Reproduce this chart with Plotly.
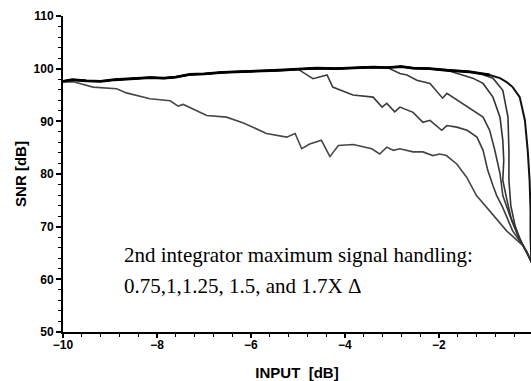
import plotly.graph_objects as go

# Shared high-SNR plateau of the wider-range curves: input level [dB], SNR [dB]
plateau_in = [-10.0, -9.8, -9.5, -9.2, -8.9, -8.5, -8.15, -7.85, -7.6, -7.3, -7.0, -6.6,
              -6.2, -5.8, -5.4, -5.0, -4.6, -4.2, -3.8, -3.4, -3.1, -2.8, -2.55, -2.2,
              -1.83, -1.6, -1.34, -1.13, -0.92]
plateau_snr = [97.6, 97.9, 97.7, 97.6, 97.9, 98.1, 98.3, 98.2, 98.4, 98.9, 99.0, 99.3,
               99.4, 99.5, 99.7, 99.9, 100.1, 100.0, 100.2, 100.3, 100.2, 100.4, 100.1, 100.0,
               99.7, 99.6, 99.4, 99.1, 98.8]

# Common overload tail where the curves meet near full scale
tail_in = [-0.13, -0.06, 0.0]
tail_snr = [65.2, 63.8, 62.8]

# 0.75X: leaves the plateau right away
a_in = [-10.0, -9.78, -9.36, -8.86, -8.65, -8.15, -7.72, -7.55, -7.44, -6.94, -6.52, -6.16,
        -5.67, -5.24, -5.06, -4.92, -4.75, -4.50, -4.32, -4.14, -3.82, -3.43, -3.26, -3.11,
        -2.97, -2.83, -2.55, -2.34, -2.13, -1.98, -1.84, -1.62, -1.41, -1.20, -0.92, -0.56, -0.21]
a_snr = [97.5, 97.5, 96.5, 96.2, 95.4, 94.3, 93.9, 92.9, 93.2, 91.1, 90.8, 89.7,
         87.7, 87.0, 87.7, 84.8, 85.7, 86.4, 83.3, 85.4, 85.6, 84.8, 83.8, 85.1,
         84.5, 84.8, 84.2, 84.2, 83.5, 83.8, 83.5, 81.9, 79.4, 75.9, 73.0, 69.2, 66.4]

# Remaining curves: the input where each leaves the plateau, then its own points
b_from = -5.0
b_in = [-4.68, -4.38, -4.26, -3.83, -3.40, -3.21, -3.11, -2.94, -2.83, -2.55, -2.34, -2.19,
        -1.94, -1.83, -1.62, -1.40, -1.19, -1.06, -0.96, -0.85, -0.77, -0.64, -0.43, -0.21]
b_snr = [98.1, 98.8, 96.5, 95.0, 94.6, 92.7, 93.4, 91.8, 92.7, 91.7, 89.8, 90.2,
         88.3, 89.2, 88.9, 88.3, 87.0, 84.5, 80.7, 77.8, 75.9, 73.6, 69.2, 66.4]

c_from = -3.1
c_in = [-2.83, -2.68, -2.47, -2.19, -2.02, -1.92, -1.83, -1.55, -1.28, -1.06, -0.92, -0.81,
        -0.70, -0.64, -0.49, -0.34, -0.21]
c_snr = [99.1, 98.8, 97.8, 97.2, 95.3, 94.4, 95.3, 93.6, 92.1, 90.8, 88.3, 84.5,
         80.1, 75.9, 72.1, 68.9, 66.4]

d_from = -1.83
d_in = [-1.62, -1.28, -1.06, -0.85, -0.70, -0.64, -0.62, -0.64, -0.55, -0.45, -0.32, -0.21]
d_snr = [99.1, 98.2, 97.2, 94.6, 90.8, 86.4, 82.6, 78.8, 75.0, 71.1, 68.3, 66.4]

e_from = -1.34
e_in = [-1.13, -0.85, -0.64, -0.53, -0.51, -0.51, -0.47, -0.38, -0.28, -0.21]
e_snr = [99.1, 98.2, 95.9, 90.8, 84.5, 78.8, 74.0, 70.2, 67.7, 66.4]

f_from = -0.92
f_in = [-0.70, -0.55, -0.43, -0.28, -0.17, -0.11, -0.07, -0.05, -0.05, -0.04, -0.03]
f_snr = [98.2, 97.4, 96.5, 94.6, 90.2, 84.5, 78.8, 73.0, 68.0, 65.0, 63.2]

ann_line1 = "2nd integrator maximum signal handling:"
ann_line2 = "0.75,1,1.25, 1.5, and 1.7X \u0394"


def with_plateau(start, xs, ys):
    px = [x for x in plateau_in if x <= start]
    py = plateau_snr[:len(px)]
    return px + xs, py + ys


fig = go.Figure()

curves = [
    (a_in + tail_in, a_snr + tail_snr, "#474747", 1.6),
    (*with_plateau(b_from, b_in + tail_in, b_snr + tail_snr), "#3c3c3c", 1.6),
    (*with_plateau(c_from, c_in + tail_in, c_snr + tail_snr), "#3c3c3c", 1.6),
    (*with_plateau(d_from, d_in + tail_in, d_snr + tail_snr), "#333333", 1.6),
    (*with_plateau(e_from, e_in + tail_in, e_snr + tail_snr), "#333333", 1.6),
    (*with_plateau(f_from, f_in, f_snr), "#111111", 2.0),
]
for xs, ys, col, w in curves:
    fig.add_trace(go.Scatter(x=xs, y=ys, mode="lines",
                             line=dict(color=col, width=w), showlegend=False,
                             hoverinfo="skip"))

# heavy overlapping bundle along the plateau
fig.add_trace(go.Scatter(x=plateau_in, y=plateau_snr, mode="lines",
                         line=dict(color="#000000", width=2.8), showlegend=False,
                         hoverinfo="skip"))

serif = "Liberation Serif, Times New Roman, serif"
sans = "Liberation Sans, Arial, sans-serif"

fig.add_annotation(x=-8.745, y=64.6, xref="x", yref="y", text=ann_line1,
                   showarrow=False, xanchor="left", yanchor="middle",
                   font=dict(family=serif, size=21, color="#000000"))
fig.add_annotation(x=-8.745, y=58.8, xref="x", yref="y", text=ann_line2,
                   showarrow=False, xanchor="left", yanchor="middle",
                   font=dict(family=serif, size=21, color="#000000"))

fig.update_layout(
    width=531, height=381,
    margin=dict(l=63, r=0, t=16, b=49),
    paper_bgcolor="white", plot_bgcolor="white",
    xaxis=dict(
        range=[-10, -0.04], tick0=-10, dtick=2, showgrid=False, zeroline=False,
        showline=True, linecolor="black", linewidth=2,
        ticks="outside", ticklen=4, tickwidth=1.5, tickcolor="black",
        ticklabelstandoff=-3,
        minor=dict(dtick=0.4, ticks="outside", ticklen=3, tickwidth=1.2, tickcolor="black"),
        tickfont=dict(family=sans, size=12, color="black", weight="bold"),
        title=dict(text="INPUT  [dB]", standoff=19,
                   font=dict(family=sans, size=15, color="black", weight="bold")),
    ),
    yaxis=dict(
        range=[50, 110], tick0=50, dtick=10, showgrid=False, zeroline=False,
        showline=True, linecolor="black", linewidth=2,
        ticks="outside", ticklen=5, tickwidth=1.5, tickcolor="black",
        minor=dict(dtick=2, ticks="outside", ticklen=3, tickwidth=1.2, tickcolor="black"),
        tickfont=dict(family=sans, size=12, color="black", weight="bold"),
        title=dict(text="SNR [dB]", standoff=3,
                   font=dict(family=sans, size=15, color="black", weight="bold")),
    ),
)

fig.write_html("out.html")
